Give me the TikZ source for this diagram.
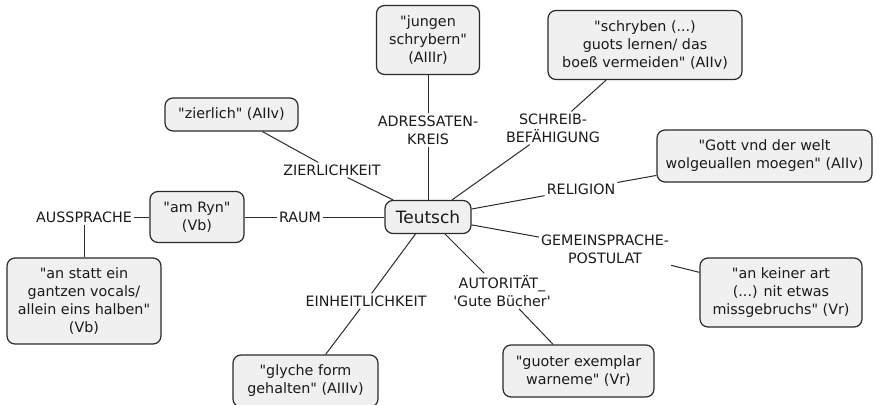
\documentclass[tikz,border=0pt]{standalone}
\usepackage{fontspec}
\newfontfamily\vfont{DejaVu Sans}
\definecolor{boxfill}{HTML}{F0F0F0}
\definecolor{boxline}{HTML}{2A2A2A}
\definecolor{txt}{HTML}{1A1A1A}
\begin{document}
\begin{tikzpicture}[x=1pt,y=-1pt,
  every node/.style={text=txt,font=\vfont\fontsize{14.3}{18}\selectfont},
  quote/.style={draw=boxline,line width=1.2pt,fill=boxfill,rounded corners=8pt,
    align=center,inner sep=0pt},
  lbl/.style={align=center,inner sep=2pt},
  conn/.style={draw=boxline,line width=1pt}]
\useasboundingbox (0,0) rectangle (882,404);
% central node
\node[quote,minimum width=86pt,minimum height=33pt,font=\vfont\fontsize{17}{20}\selectfont] (teutsch) at (428,217) {Teutsch};
% quote boxes
\node[quote,minimum width=103pt,minimum height=69pt] (jungen) at (428,40) {"jungen\\schrybern"\\(AIIIr)};
\node[quote,minimum width=194pt,minimum height=69pt] (schryben) at (645,45) {"schryben (...)\\guots lernen/ das\\boeß vermeiden" (AIIv)};
\node[quote,minimum width=133pt,minimum height=33pt] (zierlich) at (231.5,114.5) {"zierlich" (AIIv)};
\node[quote,minimum width=215pt,minimum height=52pt] (gott) at (764.5,156) {"Gott vnd der welt\\wolgeuallen moegen" (AIIv)};
\node[quote,minimum width=94pt,minimum height=51pt] (amryn) at (197,217) {"am Ryn"\\(Vb)};
\node[quote,minimum width=154pt,minimum height=86pt] (anstatt) at (84,301) {"an statt ein\\gantzen vocals/\\allein eins halben"\\(Vb)};
\node[quote,minimum width=162pt,minimum height=69pt] (ankeiner) at (781,292.5) {"an keiner art\\(...) nit etwas\\missgebruchs" (Vr)};
\node[quote,minimum width=145pt,minimum height=52pt] (glyche) at (305.5,381) {"glyche form\\gehalten" (AIIIv)};
\node[quote,minimum width=151pt,minimum height=52pt] (guoter) at (578.5,371) {"guoter exemplar\\warneme" (Vr)};
% labels
\node[lbl] (adr) at (428,130) {ADRESSATEN-\\KREIS};
\node[lbl] (schreib) at (553,128) {SCHREIB-\\BEFÄHIGUNG};
\node[lbl] (zier) at (332,170) {ZIERLICHKEIT};
\node[lbl] (relig) at (581,189) {RELIGION};
\node[lbl] (raum) at (300,217) {RAUM};
\node[lbl] (aus) at (84,217) {AUSSPRACHE};
\node[lbl] (gemein) at (605,249) {GEMEINSPRACHE-\\POSTULAT};
\node[lbl] (autor) at (502,291) {AUTORITÄT\_\\'Gute Bücher'};
\node[lbl] (einh) at (366,301) {EINHEITLICHKEIT};
% connectors
\draw[conn] (teutsch) -- (adr);
\draw[conn] (adr) -- (jungen);
\draw[conn] (teutsch) -- (schreib);
\draw[conn] (schreib) -- (schryben);
\draw[conn] (teutsch) -- (zier);
\draw[conn] (zier) -- (zierlich);
\draw[conn] (teutsch) -- (relig);
\draw[conn] (relig) -- (gott);
\draw[conn] (teutsch) -- (raum);
\draw[conn] (raum) -- (amryn);
\draw[conn] (amryn) -- (aus);
\draw[conn] (aus) -- (anstatt);
\draw[conn] (teutsch) -- (gemein);
\draw[conn] (gemein) -- (ankeiner);
\draw[conn] (teutsch) -- (autor);
\draw[conn] (autor) -- (guoter);
\draw[conn] (teutsch) -- (einh);
\draw[conn] (einh) -- (glyche);
\end{tikzpicture}
\end{document}
